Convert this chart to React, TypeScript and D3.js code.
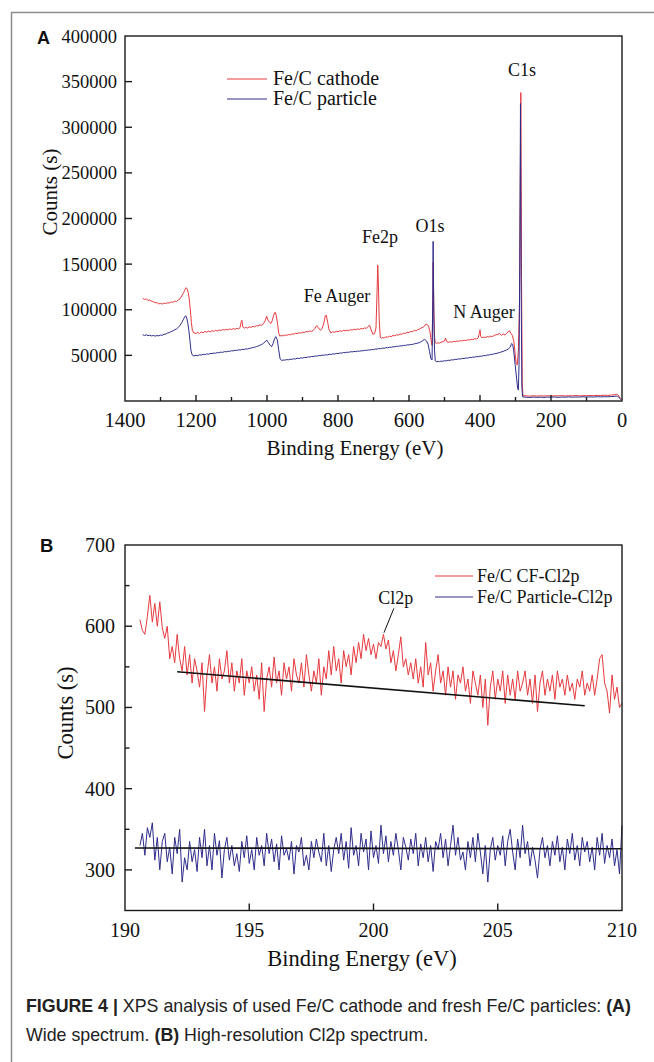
import { useEffect, useRef } from 'react';
import * as d3 from 'd3';

type Pt = [number, number];

// ---------- panel A: wide survey, [binding energy (eV), counts] ----------
const cathodeWide: Pt[] = [
  [1350,112500],[1345,111200],[1340,111800],[1335,110300],[1330,110600],[1325,109200],[1320,108800],[1315,107600],
  [1310,107900],[1305,106400],[1300,106900],[1295,106200],[1290,107300],[1285,106800],[1280,107700],[1275,107400],
  [1270,108600],[1265,108100],[1260,109400],[1255,109000],[1250,110700],[1245,112100],[1240,115200],[1235,118600],
  [1232,121300],[1228,124200],[1225,122800],[1222,119000],[1219,112000],[1216,100000],[1213,86000],[1210,77000],
  [1206,74500],[1200,74000],[1195,75300],[1190,73900],[1185,75600],[1180,74800],[1175,76200],[1170,75400],
  [1165,76600],[1160,75700],[1155,77000],[1150,76300],[1145,77400],[1140,76800],[1135,77900],[1130,77200],
  [1125,78300],[1120,77700],[1115,78600],[1110,77900],[1105,79000],[1100,78300],[1095,79300],[1090,78600],
  [1085,79600],[1080,79000],[1076,80400],[1073,86000],[1071,88500],[1068,81000],[1064,79800],[1060,80600],
  [1055,80000],[1050,81200],[1045,80700],[1040,81800],[1035,81300],[1030,82500],[1025,82200],[1020,83400],
  [1015,83000],[1010,84600],[1005,88000],[1001,93000],[997,88500],[993,86200],[989,85000],[985,88300],
  [981,94200],[977,97200],[974,94000],[970,84000],[967,74500],[964,71000],[960,71800],[955,71300],
  [950,72300],[945,71900],[940,72800],[935,72400],[930,73500],[925,73100],[920,74200],[915,73800],
  [910,74800],[905,74400],[900,75400],[895,75000],[890,76100],[885,75700],[880,76700],[875,76300],
  [870,77200],[865,79600],[860,82600],[855,80200],[850,77500],[845,79200],[840,85000],[836,93000],
  [833,94200],[829,86000],[825,78000],[820,74600],[815,75900],[810,75300],[805,76400],[800,75900],
  [795,76900],[790,76300],[785,77400],[780,76900],[775,77700],[770,77100],[765,78200],[760,77600],
  [755,78700],[750,78100],[745,79000],[740,78400],[735,79500],[730,79000],[725,80100],[720,79600],
  [715,81800],[711,83000],[707,78400],[702,73200],[697,73800],[693,80000],[690,120000],[688,149000],
  [686,125000],[684,90000],[681,70000],[678,68600],[674,69600],[670,69100],[665,70300],[660,69900],
  [655,71000],[650,70600],[645,71800],[640,71400],[635,72600],[630,72200],[625,73500],[620,73100],
  [615,74400],[610,74000],[605,75300],[600,75000],[595,76300],[590,75900],[585,77300],[580,77000],
  [575,78400],[570,78900],[565,80200],[560,80800],[555,83200],[550,84200],[545,82000],[541,76000],
  [538,67000],[535,61000],[533,110000],[532,152000],[530,100000],[528,70000],[526,64000],[522,63200],
  [518,63800],[514,63400],[510,64400],[505,64900],[500,65800],[497,69000],[494,65200],[490,64200],
  [485,64900],[480,64500],[475,65400],[470,65000],[465,65800],[460,65300],[455,66200],[450,65800],
  [445,66700],[440,66300],[435,67100],[430,66800],[425,67600],[420,67200],[415,68300],[410,67900],
  [405,69200],[402,74000],[400,78000],[398,71000],[395,69300],[390,70000],[385,69600],[380,70500],
  [375,70100],[370,71000],[365,70700],[360,71800],[355,72600],[350,72900],[345,74200],[340,71800],
  [335,73600],[330,72400],[325,74000],[320,76200],[317,77000],[313,74000],[309,72000],[305,66000],
  [301,52000],[298,41000],[295,39500],[292,55000],[289,100000],[287,200000],[285,338000],[283,130000],
  [281,20000],[279,6000],[270,5600],[260,5300],[250,5800],[240,5400],[230,5700],[220,5500],
  [210,5800],[200,5400],[190,5700],[180,5600],[170,5900],[160,5500],[150,5800],[140,5700],
  [130,6000],[120,5600],[110,5900],[100,5800],[90,6100],[80,5900],[70,6200],[60,6000],
  [50,6300],[40,6100],[30,6500],[22,6700],[16,7300],[12,7000],[8,5200],[5,3000],[2,1500],
];

const particleWide: Pt[] = [
  [1350,72600],[1345,71900],[1340,72500],[1335,71600],[1330,72100],[1325,71300],[1320,71800],[1315,71100],
  [1310,71700],[1305,71400],[1300,72200],[1295,72000],[1290,73100],[1285,73300],[1280,74600],[1275,74900],
  [1270,76100],[1265,76800],[1260,78100],[1255,78900],[1250,80600],[1245,82900],[1240,86100],[1236,89000],
  [1232,92100],[1229,93400],[1226,91000],[1223,85000],[1220,77000],[1217,66000],[1214,55000],[1211,50600],
  [1206,49400],[1200,50100],[1195,49700],[1190,50600],[1185,50300],[1180,51100],[1175,50800],[1170,51600],
  [1165,51300],[1160,52100],[1155,51800],[1150,52600],[1145,52300],[1140,53100],[1135,52800],[1130,53600],
  [1125,53300],[1120,54100],[1115,53900],[1110,54600],[1105,54400],[1100,55100],[1095,54900],[1090,55600],
  [1085,55400],[1080,56100],[1075,55900],[1070,56600],[1065,56400],[1060,57100],[1055,57000],[1050,57700],
  [1045,57900],[1040,58600],[1035,58900],[1030,59600],[1025,60200],[1020,61100],[1015,62000],[1010,63100],
  [1004,65600],[1000,66500],[996,64000],[991,61000],[987,59500],[983,63000],[979,68000],[975,70500],
  [971,67000],[967,56000],[963,46000],[958,44400],[954,45000],[950,44700],[945,45400],[940,45100],
  [935,45800],[930,45600],[925,46300],[920,46000],[915,46800],[910,46500],[905,47300],[900,47000],
  [895,47800],[890,47600],[885,48300],[880,48100],[875,48800],[870,48600],[865,49300],[860,49100],
  [855,49800],[850,49600],[845,50300],[840,50100],[835,50700],[830,50400],[825,51100],[820,50900],
  [815,51600],[810,51400],[805,52100],[800,51900],[795,52600],[790,52400],[785,53100],[780,52900],
  [775,53500],[770,53300],[765,54000],[760,53800],[755,54300],[750,54100],[745,54700],[740,54500],
  [735,55100],[730,54900],[725,55600],[720,55400],[715,56000],[710,55800],[705,56500],[700,56300],
  [695,57000],[690,56800],[685,57500],[680,57300],[675,58000],[670,57800],[665,58500],[660,58300],
  [655,59000],[650,58800],[645,59500],[640,59300],[635,60000],[630,59800],[625,60500],[620,60300],
  [615,61000],[610,60900],[605,61500],[600,61400],[595,62000],[590,62000],[585,62700],[580,62900],
  [575,63600],[570,64000],[566,65000],[562,66000],[556,67500],[551,66000],[546,62000],[542,54000],
  [538,46000],[535,45000],[533,110000],[532,175000],[530,90000],[528,55000],[526,44000],[522,43000],
  [518,43500],[514,43100],[510,43700],[505,43500],[500,44200],[495,44000],[490,44700],[485,44500],
  [480,45200],[475,45000],[470,45700],[465,45500],[460,46200],[455,46000],[450,46700],[445,46500],
  [440,47200],[435,47000],[430,47700],[425,47500],[420,48200],[415,48000],[410,48700],[405,48500],
  [400,49200],[395,49000],[390,49800],[385,49700],[380,50400],[375,50300],[370,51100],[365,51000],
  [360,51800],[355,51900],[350,52700],[345,53000],[340,53800],[335,54300],[330,55200],[325,55900],
  [320,57100],[315,59000],[311,63000],[308,62000],[305,55000],[301,40000],[297,25000],[294,14000],
  [292,12000],[290,40000],[288,150000],[286,326000],[284,120000],[282,15000],[280,4500],[270,4100],
  [260,3900],[250,4300],[240,4000],[230,4200],[220,3900],[210,4300],[200,4100],[190,4400],
  [180,4000],[170,4300],[160,4200],[150,4500],[140,4200],[130,4400],[120,4300],[110,4600],
  [100,4400],[90,4500],[80,4400],[70,4700],[60,4500],[50,4700],[40,4600],[30,4900],
  [22,5000],[16,5400],[12,5100],[8,3600],[5,2500],[2,1200],
];

const wideXTicks = [1400, 1200, 1000, 800, 600, 400, 200, 0];
const wideXMinor = [1300, 1100, 900, 700, 500, 300, 100];
const wideYTicks = [50000, 100000, 150000, 200000, 250000, 300000, 350000, 400000];
const wideLegend = ['Fe/C cathode', 'Fe/C particle'];
// peak names placed at (eV, counts)
const widePeaks = [
  { text: 'C1s', e: 281.6, v: 356000 },
  { text: 'Fe2p', e: 681.7, v: 173000 },
  { text: 'O1s', e: 540.8, v: 185000 },
  { text: 'Fe Auger', e: 802.8, v: 108500 },
  { text: 'N Auger', e: 388.7, v: 91000 },
];

// ---------- panel B: Cl2p region, counts every 0.1 eV from 190.6 eV ----------
const clStart = 190.6;
const clStep = 0.1;
const cathodeCl = [
  608, 595, 590, 612, 638, 605, 628, 600, 630, 598, 585, 600, 560, 575, 555,
  590, 560, 545, 575, 540, 565, 530, 560, 545, 525, 555, 495, 540, 565, 530,
  550, 520, 560, 535, 545, 570, 530, 555, 520, 545, 530, 560, 515, 545, 530,
  550, 520, 540, 510, 555, 495, 535, 550, 525, 562, 530, 545, 515, 555, 535,
  550, 520, 560, 540, 530, 555, 525, 565, 540, 520, 545, 530, 560, 515, 550,
  535, 570, 540, 575, 545, 560, 530, 570, 550, 565, 540, 575, 555, 580, 560,
  590, 570, 585, 565, 578, 560, 580, 575, 590, 572, 583, 555, 570, 545, 565,
  587, 550, 560, 540, 555, 535, 560, 530, 550, 525, 580, 540, 555, 520, 545,
  565, 530, 545, 515, 550, 525, 545, 510, 540, 530, 550, 520, 535, 505, 545,
  530, 515, 540, 500, 535, 478, 525, 545, 510, 535, 520, 545, 505, 540, 515,
  535, 510, 545, 520, 530, 545, 515, 535, 505, 540, 495, 530, 545, 515, 535,
  520, 540, 510, 545, 525, 535, 515, 540, 520, 530, 510, 535, 525, 545, 515,
  530, 520, 540, 515, 535, 560, 565, 530, 520, 493, 540, 510, 525, 500, 505,
];
const particleCl = [
  330, 345, 318, 352, 340, 358, 312, 340, 300, 335, 345, 310, 328, 295, 340,
  320, 350, 285, 315, 300, 335, 310, 325, 298, 340, 315, 350, 305, 330, 300,
  345, 318, 336, 290, 325, 340, 312, 330, 305, 320, 298, 335, 315, 342, 308,
  325, 300, 340, 318, 330, 305, 345, 320, 338, 310, 332, 300, 342, 318, 326,
  312, 335, 295, 330, 322, 340, 305, 318, 300, 335, 315, 338, 322, 310, 345,
  305, 330, 298, 325, 340, 320, 345, 312, 335, 302, 352, 318, 330, 305, 345,
  322, 338, 300, 348, 315, 330, 308, 355, 320, 342, 310, 335, 318, 345, 325,
  300, 340, 328, 312, 338, 320, 345, 305, 332, 315, 340, 310, 330, 298, 335,
  325, 345, 315, 338, 305, 330, 355, 318, 340, 312, 322, 300, 335, 315, 340,
  310, 345, 322, 295, 330, 285, 325, 340, 312, 330, 318, 342, 305, 335, 350,
  322, 300, 338, 315, 355, 320, 335, 305, 328, 312, 290, 325, 340, 315, 330,
  305, 335, 318, 342, 310, 328, 300, 338, 320, 345, 312, 330, 305, 340, 322,
  335, 310, 328, 300, 340, 318, 345, 308, 330, 315, 338, 305, 325, 295, 355,
];
// straight baselines drawn under each spectrum
const cathodeBase: Pt[] = [[192.1, 544], [208.5, 502]];
const particleBase: Pt[] = [[190.4, 327], [210, 326]];

const clXTicks = [190, 195, 200, 205, 210];
const clYTicks = [300, 400, 500, 600, 700];
const clYMinor = [350, 450, 550, 650];
const clLegend = ['Fe/C CF-Cl2p', 'Fe/C Particle-Cl2p'];
const clPeak = { text: 'Cl2p', e: 200.9, v: 627, from: [200.82, 622] as Pt, to: [200.42, 592] as Pt };

const RED = '#e53a3f';
const BLUE = '#2e2d8a';
const SERIF = '"Liberation Serif", "Times New Roman", serif';
const SANS = '"Liberation Sans", Arial, sans-serif';

const App = () => {
  const svgRef = useRef<SVGSVGElement>(null);

  useEffect(() => {
    const svg = d3.select(svgRef.current);
    svg.selectAll('*').remove();

    // figure border
    svg.append('rect')
      .attr('x', 11.5).attr('y', 12.5).attr('width', 700).attr('height', 1100)
      .attr('fill', 'none').attr('stroke', '#8c8c8c').attr('stroke-width', 1.5);

    const left = 125, right = 622;

    // ---------------- panel A ----------------
    const xA = d3.scaleLinear().domain([1400, 0]).range([left, right]);
    const yA = d3.scaleLinear().domain([0, 400000]).range([401, 36]);
    const lineA = d3.line<Pt>().x(d => xA(d[0])).y(d => yA(d[1]));

    const gA = svg.append('g');
    gA.append('path').datum(cathodeWide).attr('d', lineA)
      .attr('fill', 'none').attr('stroke', RED).attr('stroke-width', 1);
    gA.append('path').datum(particleWide).attr('d', lineA)
      .attr('fill', 'none').attr('stroke', BLUE).attr('stroke-width', 1);

    gA.append('rect')
      .attr('x', left).attr('y', yA(400000)).attr('width', right - left).attr('height', yA(0) - yA(400000))
      .attr('fill', 'none').attr('stroke', '#1a1a1a').attr('stroke-width', 1.4);

    // inward ticks
    gA.selectAll('.xa-tick').data(wideXTicks.slice(1, -1)).enter().append('line')
      .attr('x1', d => xA(d)).attr('x2', d => xA(d)).attr('y1', yA(0)).attr('y2', yA(0) - 6)
      .attr('stroke', '#1a1a1a').attr('stroke-width', 1.4);
    gA.selectAll('.xa-minor').data(wideXMinor).enter().append('line')
      .attr('x1', d => xA(d)).attr('x2', d => xA(d)).attr('y1', yA(0)).attr('y2', yA(0) - 4)
      .attr('stroke', '#1a1a1a').attr('stroke-width', 1.4);
    gA.selectAll('.ya-tick').data(wideYTicks.slice(0, -1)).enter().append('line')
      .attr('x1', left).attr('x2', left + 7).attr('y1', d => yA(d)).attr('y2', d => yA(d))
      .attr('stroke', '#1a1a1a').attr('stroke-width', 1.4);

    gA.selectAll('.xa-label').data(wideXTicks).enter().append('text')
      .text(d => d)
      .attr('x', d => xA(d)).attr('y', yA(0) + 26)
      .attr('text-anchor', 'middle')
      .style('font-family', SERIF).style('font-size', '20.5px').style('fill', '#111');
    gA.selectAll('.ya-label').data(wideYTicks).enter().append('text')
      .text(d => d)
      .attr('x', 117).attr('y', d => yA(d) + 6.5)
      .attr('text-anchor', 'end')
      .style('font-family', SERIF).style('font-size', '18.5px').style('fill', '#111');

    gA.append('text')
      .attr('transform', `translate(57, 192) rotate(-90)`)
      .attr('text-anchor', 'middle')
      .style('font-family', SERIF).style('font-size', '21px').style('fill', '#111')
      .text('Counts (s)');
    gA.append('text')
      .attr('x', 355).attr('y', 455)
      .attr('text-anchor', 'middle')
      .style('font-family', SERIF).style('font-size', '21px').style('fill', '#111')
      .text('Binding Energy (eV)');

    gA.append('text')
      .attr('x', 37).attr('y', 44)
      .style('font-family', SANS).style('font-weight', 'bold').style('font-size', '18px').style('fill', '#111')
      .text('A');

    // legend A
    [RED, BLUE].forEach((c, i) => {
      gA.append('line')
        .attr('x1', 227).attr('x2', 267).attr('y1', 79 + i * 20).attr('y2', 79 + i * 20)
        .attr('stroke', c).attr('stroke-width', 1.2);
      gA.append('text')
        .attr('x', 273).attr('y', 85 + i * 20)
        .style('font-family', SERIF).style('font-size', '20px').style('fill', '#111')
        .text(wideLegend[i]);
    });

    gA.selectAll('.peak').data(widePeaks).enter().append('text')
      .text(d => d.text)
      .attr('x', d => xA(d.e)).attr('y', d => yA(d.v))
      .attr('text-anchor', 'middle')
      .style('font-family', SERIF).style('font-size', '18px').style('fill', '#111');

    // ---------------- panel B ----------------
    const xB = d3.scaleLinear().domain([190, 210]).range([left, right]);
    const yB = d3.scaleLinear().domain([250, 700]).range([910.5, 545]);
    const lineB = d3.line<Pt>().x(d => xB(d[0])).y(d => yB(d[1]));
    const cathodePts: Pt[] = cathodeCl.map((v, i) => [clStart + i * clStep, v]);
    const particlePts: Pt[] = particleCl.map((v, i) => [clStart + i * clStep, v]);

    const gB = svg.append('g');
    gB.append('path').datum(cathodePts).attr('d', lineB)
      .attr('fill', 'none').attr('stroke', RED).attr('stroke-width', 1);
    gB.append('path').datum(particlePts).attr('d', lineB)
      .attr('fill', 'none').attr('stroke', BLUE).attr('stroke-width', 1);
    [cathodeBase, particleBase].forEach(b => {
      gB.append('path').datum(b).attr('d', lineB)
        .attr('fill', 'none').attr('stroke', '#111').attr('stroke-width', 1.6);
    });

    gB.append('rect')
      .attr('x', left).attr('y', yB(700)).attr('width', right - left).attr('height', yB(250) - yB(700))
      .attr('fill', 'none').attr('stroke', '#1a1a1a').attr('stroke-width', 1.4);

    gB.selectAll('.xb-tick').data(clXTicks.slice(1, -1)).enter().append('line')
      .attr('x1', d => xB(d)).attr('x2', d => xB(d)).attr('y1', yB(250)).attr('y2', yB(250) - 7)
      .attr('stroke', '#1a1a1a').attr('stroke-width', 1.4);
    gB.selectAll('.yb-tick').data(clYTicks.slice(0, -1)).enter().append('line')
      .attr('x1', left).attr('x2', left + 7).attr('y1', d => yB(d)).attr('y2', d => yB(d))
      .attr('stroke', '#1a1a1a').attr('stroke-width', 1.4);
    gB.selectAll('.yb-minor').data(clYMinor).enter().append('line')
      .attr('x1', left).attr('x2', left + 4.5).attr('y1', d => yB(d)).attr('y2', d => yB(d))
      .attr('stroke', '#1a1a1a').attr('stroke-width', 1.4);

    gB.selectAll('.xb-label').data(clXTicks).enter().append('text')
      .text(d => d)
      .attr('x', d => xB(d)).attr('y', yB(250) + 26)
      .attr('text-anchor', 'middle')
      .style('font-family', SERIF).style('font-size', '20px').style('fill', '#111');
    gB.selectAll('.yb-label').data(clYTicks).enter().append('text')
      .text(d => d)
      .attr('x', 115).attr('y', d => yB(d) + 7)
      .attr('text-anchor', 'end')
      .style('font-family', SERIF).style('font-size', '20px').style('fill', '#111');

    gB.append('text')
      .attr('transform', `translate(73, 713) rotate(-90)`)
      .attr('text-anchor', 'middle')
      .style('font-family', SERIF).style('font-size', '22.5px').style('fill', '#111')
      .text('Counts (s)');
    gB.append('text')
      .attr('x', 362).attr('y', 966)
      .attr('text-anchor', 'middle')
      .style('font-family', SERIF).style('font-size', '22.5px').style('fill', '#111')
      .text('Binding Energy (eV)');

    gB.append('text')
      .attr('x', 40).attr('y', 552)
      .style('font-family', SANS).style('font-weight', 'bold').style('font-size', '18.5px').style('fill', '#111')
      .text('B');

    [RED, BLUE].forEach((c, i) => {
      gB.append('line')
        .attr('x1', 435).attr('x2', 473).attr('y1', 576 + i * 21).attr('y2', 576 + i * 21)
        .attr('stroke', c).attr('stroke-width', 1.2);
      gB.append('text')
        .attr('x', 477).attr('y', 582 + i * 21)
        .style('font-family', SERIF).style('font-size', '18px').style('fill', '#111')
        .text(clLegend[i]);
    });

    gB.append('text')
      .attr('x', xB(clPeak.e)).attr('y', yB(clPeak.v))
      .attr('text-anchor', 'middle')
      .style('font-family', SERIF).style('font-size', '18px').style('fill', '#111')
      .text(clPeak.text);
    gB.append('line')
      .attr('x1', xB(clPeak.from[0])).attr('y1', yB(clPeak.from[1]))
      .attr('x2', xB(clPeak.to[0])).attr('y2', yB(clPeak.to[1]))
      .attr('stroke', '#111').attr('stroke-width', 1);

    // ---------------- caption ----------------
    const cap = svg.append('g')
      .style('font-family', SANS).style('font-size', '17.8px').style('fill', '#222');
    const l1 = cap.append('text').attr('x', 26).attr('y', 1012);
    l1.append('tspan').style('font-weight', 'bold').text('FIGURE 4 | ');
    l1.append('tspan').text('XPS analysis of used Fe/C cathode and fresh Fe/C particles: ');
    l1.append('tspan').style('font-weight', 'bold').text('(A)');
    const l2 = cap.append('text').attr('x', 26).attr('y', 1041);
    l2.append('tspan').text('Wide spectrum. ');
    l2.append('tspan').style('font-weight', 'bold').text('(B)');
    l2.append('tspan').text(' High-resolution Cl2p spectrum.');
  }, []);

  return (
    <svg
      ref={svgRef}
      width={654}
      height={1062}
      style={{ position: 'absolute', left: 0, top: 0, background: '#fff' }}
    />
  );
};

export default App;
